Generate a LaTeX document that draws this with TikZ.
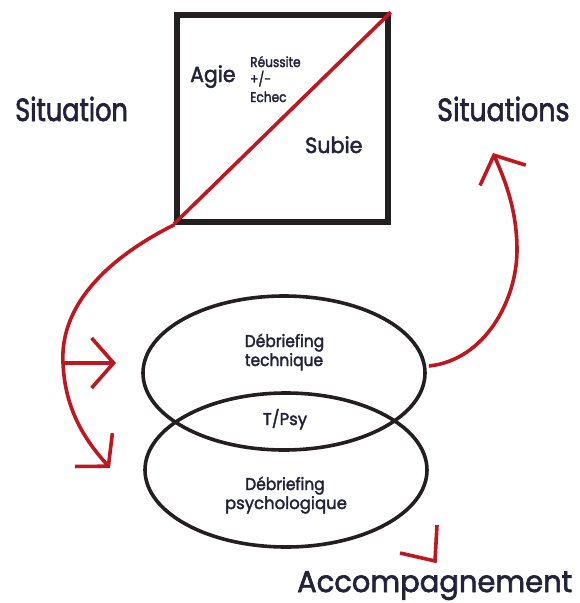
\documentclass[tikz,border=0pt]{standalone}
\usepackage{fontspec}
\setmainfont{Poppins}[FakeBold=2.2]
\usetikzlibrary{arrows.meta,shapes.geometric}
\definecolor{dred}{HTML}{C0161F}
\definecolor{ink}{HTML}{231F20}
\definecolor{txt}{HTML}{22223A}
\newcommand{\sx}[2]{\scalebox{#1}[1]{#2}}
\begin{document}
\begin{tikzpicture}[x=1pt,y=-1pt,
  redline/.style={draw=dred,line width=3.6pt},
  redarrow/.style={redline,-{Straight Barb[length=22pt,width=50pt,line join=miter]}},
  bigtxt/.style={text=txt,font=\fontsize{32}{34}\selectfont,inner sep=0pt,anchor=base west},
  midtxt/.style={text=txt,font=\fontsize{22}{24}\selectfont,inner sep=0pt,anchor=base west},
  smalltxt/.style={text=txt,font=\fontsize{17}{19}\selectfont,inner sep=0pt,anchor=base},
  tinytxt/.style={text=txt,font=\fontsize{14}{16}\selectfont,inner sep=0pt,anchor=base west},
  ell/.style={draw=ink,line width=3.6pt,ellipse,minimum width=282pt,minimum height=154pt,inner sep=0pt}]
\useasboundingbox (0,0) rectangle (579,603);
% box
\node[draw=ink,line width=5.5pt,minimum width=211pt,minimum height=207pt,inner sep=0pt] (box) at (282.5,118.5) {};
% ellipses
\node[ell] (tech) at (284,373) {};
\node[ell] (psy) at (286,470) {};
% texts
\node[bigtxt] (sit) at (15,121) {\sx{0.8}{Situation}};
\node[bigtxt] (sits) at (437,121) {\sx{0.84}{Situations}};
\node[bigtxt,font=\fontsize{30}{32}\selectfont] (acc) at (297,592) {\sx{0.965}{Accompagnement}};
\node[midtxt] (agie) at (190,82) {\sx{0.93}{Agie}};
\node[midtxt] (subie) at (305,153) {\sx{0.94}{Subie}};
\node[tinytxt] (reu1) at (250,67) {\sx{0.87}{Réussite}};
\node[tinytxt] (reu2) at (250,84) {\sx{0.87}{+/-}};
\node[tinytxt] (reu3) at (250,102) {\sx{0.87}{Echec}};
\node[smalltxt] (tt1) at (284.5,347) {\sx{0.91}{Débriefing}};
\node[smalltxt] (tt2) at (284,366) {\sx{0.91}{technique}};
\node[smalltxt] (tp) at (285,425) {\sx{0.97}{T/Psy}};
\node[smalltxt] (tps1) at (285,490) {\sx{0.91}{Débriefing}};
\node[smalltxt] (tps2) at (286,509) {\sx{0.97}{psychologique}};
% connectors
\coordinate (dEnd) at (174,224);
\draw[redline] (box.north east) -- (dEnd);
\coordinate (mid) at (63,363);
\coordinate (lTip) at (110,468);
\draw[redarrow] (box.south west) .. controls (100,262) and (60,310) .. (mid)
   .. controls (65,410) and (85,440) .. (lTip);
\coordinate (hTip) at (116,363);
\draw[redarrow] (mid) -- (hTip);
\coordinate (rStart) at (429,366);
\coordinate (rMid) at (517,250);
\coordinate (rTip) at (493,153);
\draw[redarrow] (rStart) .. controls (485,360) and (517,300) .. (rMid)
   .. controls (517,210) and (505,180) .. (rTip);
\coordinate (aA) at (437,525);
\coordinate (aTip) at (435,561);
\coordinate (aB) at (400,553);
\draw[redline,line join=miter] (aA) -- (aTip) -- (aB);
\end{tikzpicture}
\end{document}
